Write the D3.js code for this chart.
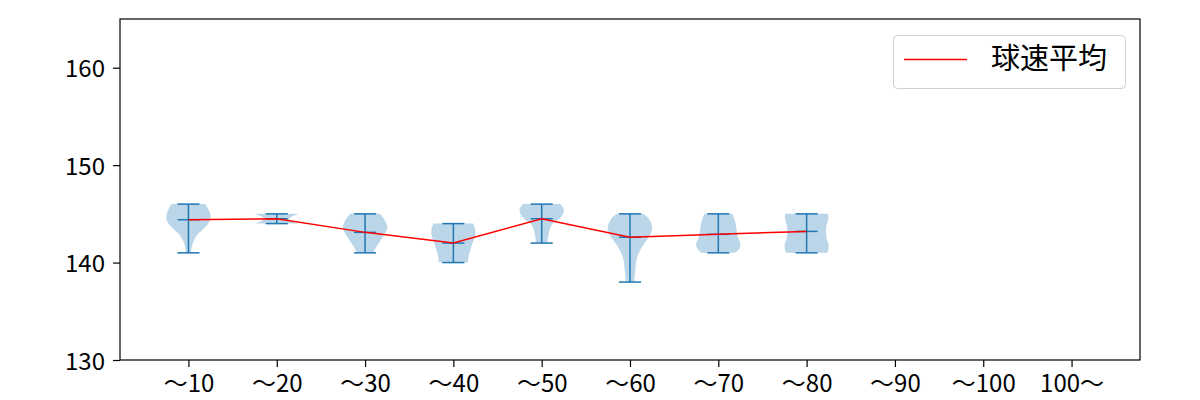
<!DOCTYPE html>
<html><head><meta charset="utf-8">
<script src="https://cdn.jsdelivr.net/npm/d3@7"></script>
<style>
html,body{margin:0;padding:0;background:#fff;}
text{font-family:"Noto Sans CJK JP","Noto Sans",sans-serif;fill:#000;}
</style></head>
<body><svg id="c" width="1200" height="400"></svg>
<script>
const categories = ["〜10","〜20","〜30","〜40","〜50","〜60","〜70","〜80","〜90","〜100","100〜"];
const means = [144.4, 144.5, 143.1, 142.0, 144.5, 142.6, 142.9, 143.2, null, null, null];
const mins  = [141, 144, 141, 140, 142, 138, 141, 141, null, null, null];
const maxs  = [146, 145, 145, 144, 146, 145, 145, 145, null, null, null];
// violin outlines: [speed, relative half-width]
const shapes = [
  [[141,0.12],[141.5,0.14],[142,0.2],[142.5,0.3],[143,0.46],[143.5,0.7],[144,0.9],[144.5,1.0],[145,0.98],[145.5,0.9],[146,0.76]],
  [[144,1.0],[144.25,0.72],[144.5,0.55],[144.75,0.72],[145,1.0]],
  [[141,0.36],[141.5,0.48],[142,0.62],[142.5,0.76],[143,0.9],[143.5,1.0],[144,0.97],[144.5,0.85],[145,0.66]],
  [[140,0.66],[140.5,0.68],[141,0.73],[141.5,0.8],[142,0.87],[142.5,0.95],[143,1.0],[143.5,0.98],[144,0.9]],
  [[142,0.27],[142.5,0.28],[143,0.32],[143.5,0.38],[144,0.5],[144.5,0.8],[145,0.97],[145.5,1.0],[146,0.84]],
  [[138,0.2],[138.5,0.21],[139,0.23],[139.5,0.25],[140,0.27],[140.5,0.32],[141,0.4],[141.5,0.52],[142,0.66],[142.5,0.82],[143,0.95],[143.5,1.0],[144,0.97],[144.5,0.85],[145,0.6]],
  [[141,0.76],[141.5,0.97],[142,1.0],[142.5,0.9],[143,0.85],[143.5,0.82],[144,0.78],[144.5,0.72],[145,0.63]],
  [[141,0.93],[141.5,1.0],[142,0.98],[142.5,0.9],[143,0.88],[143.5,0.88],[144,0.92],[144.5,0.98],[145,0.97]],
  null, null, null
];
const yTicks = [130, 140, 150, 160];
const legendLabel = "球速平均";

const svg = d3.select("#c");
const L = 120, R = 1140, T = 19, B = 360;
const x = d3.scaleLinear().domain([0.225, 11.775]).range([L, R]);
const y = d3.scaleLinear().domain([130, 165]).range([B, T]);
const halfW = x(1.25) - x(1);
const capW = x(1.125) - x(1);
const blue = "#1f77b4";

// violins
categories.forEach((c, i) => {
  const cx = x(i + 1);
  if (shapes[i]) {
    const area = d3.area()
      .y(d => y(d[0]))
      .x0(d => cx - d[1] * halfW)
      .x1(d => cx + d[1] * halfW)
      .curve(d3.curveCatmullRom);
    svg.append("path").attr("d", area(shapes[i]))
      .attr("fill", blue).attr("fill-opacity", 0.3).attr("stroke", "none");
  }
  if (mins[i] != null) {
    const g = svg.append("g").attr("stroke", blue).attr("stroke-width", 1.5);
    g.append("line").attr("x1", cx).attr("x2", cx).attr("y1", y(mins[i])).attr("y2", y(maxs[i]));
    [mins[i], maxs[i], means[i]].forEach(v => {
      g.append("line").attr("x1", cx - capW).attr("x2", cx + capW).attr("y1", y(v)).attr("y2", y(v));
    });
  }
});

// mean line
const lineData = means.map((m, i) => [i + 1, m]).filter(d => d[1] != null);
svg.append("path").attr("d", d3.line().x(d => x(d[0])).y(d => y(d[1]))(lineData))
  .attr("fill", "none").attr("stroke", "red").attr("stroke-width", 1.5);

// axes
const xAxis = d3.axisBottom(x).tickValues(categories.map((c, i) => i + 1))
  .tickFormat((d) => categories[d - 1]).tickSizeOuter(0).tickSize(7).tickPadding(8);
const gx = svg.append("g").attr("transform", `translate(0,${B})`).call(xAxis);
const yAxis = d3.axisLeft(y).tickValues(yTicks).tickSizeOuter(0).tickSize(7).tickPadding(8);
const gy = svg.append("g").attr("transform", `translate(${L},0)`).call(yAxis);
[gx, gy].forEach(g => {
  g.select(".domain").remove();
  g.selectAll("line").attr("stroke", "#000").attr("stroke-width", 1.2);
  g.selectAll("text").attr("font-size", 24).attr("font-family", '"Noto Sans CJK JP",sans-serif').attr("fill", "#000");
});
gy.selectAll("text").attr("dy", "0.38em");
svg.append("rect").attr("x", L).attr("y", T).attr("width", R - L).attr("height", B - T)
  .attr("fill", "none").attr("stroke", "#000").attr("stroke-width", 1.2);

// legend
const lg = svg.append("g");
lg.append("rect").attr("x", 893.5).attr("y", 35.5).attr("width", 232).attr("height", 53).attr("rx", 4)
  .attr("fill", "#fff").attr("fill-opacity", 0.8).attr("stroke", "#d0d0d0");
lg.append("line").attr("x1", 904).attr("x2", 967).attr("y1", 59.5).attr("y2", 59.5)
  .attr("stroke", "red").attr("stroke-width", 1.5);
lg.append("text").attr("x", 991).attr("y", 69).attr("font-size", 29).text(legendLabel);
</script></body></html>
